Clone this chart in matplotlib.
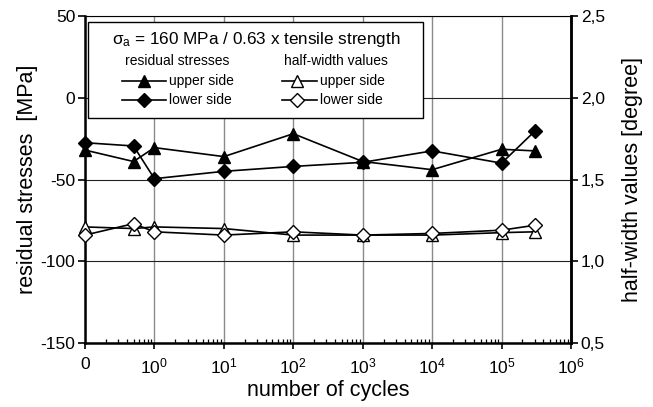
import matplotlib
matplotlib.use("Agg")
import matplotlib.pyplot as plt
from matplotlib.patches import Rectangle
from matplotlib.lines import Line2D
from matplotlib.ticker import FixedLocator, LogLocator, NullFormatter

plt.rcParams['font.family'] = ['Liberation Sans', 'DejaVu Sans']
plt.rcParams['mathtext.fontset'] = 'custom'
plt.rcParams['mathtext.rm'] = 'Liberation Sans'
plt.rcParams['mathtext.it'] = 'Liberation Sans:italic'
plt.rcParams['mathtext.sf'] = 'Liberation Sans'

# number of cycles (0 is drawn at the 10^-1 position of the log axis)
cycles = [0, 0.5, 1, 10, 100, 1000, 1e4, 1e5, 3e5]
zero_pos = 0.1
xpos = [zero_pos if c == 0 else c for c in cycles]

# residual stresses [MPa]
rs_upper = [-32, -39, -30.5, -36, -22, -39, -44, -31.5, -32.5]
rs_lower = [-27.5, -29.5, -49.5, -45, -42, -39.5, -32.5, -40, -20.5]
# half-width values [degree]
hw_upper = [1.21, 1.20, 1.21, 1.20, 1.16, 1.16, 1.16, 1.175, 1.18]
hw_lower = [1.16, 1.23, 1.18, 1.16, 1.18, 1.16, 1.17, 1.19, 1.22]

xtick_vals = [zero_pos, 1, 10, 100, 1e3, 1e4, 1e5, 1e6]
xtick_labels = ['0', '$10^{0}$', '$10^{1}$', '$10^{2}$', '$10^{3}$',
                '$10^{4}$', '$10^{5}$', '$10^{6}$']
ytick_left = [-150, -100, -50, 0, 50]
ytick_right = [0.5, 1.0, 1.5, 2.0, 2.5]
ytick_right_labels = ['0,5', '1,0', '1,5', '2,0', '2,5']

fig = plt.figure(figsize=(6.53, 4.07), dpi=100)
ax = fig.add_axes([85/653, 64/407, (571-85)/653, (343-16)/407])
ax.set_xscale('log')
ax.set_xlim(zero_pos, 1e6)
ax.set_ylim(-150, 50)

ax.xaxis.set_major_locator(FixedLocator(xtick_vals))
ax.set_xticklabels(xtick_labels)
ax.xaxis.set_minor_locator(LogLocator(base=10, subs=range(2, 10), numticks=20))
ax.xaxis.set_minor_formatter(NullFormatter())
ax.set_yticks(ytick_left)
ax.set_yticklabels([str(v) for v in ytick_left])

ax.grid(True, axis='x', which='major', color='#8a8a8a', lw=1.0)
ax.grid(True, axis='y', which='major', color='#222222', lw=0.8)
ax.set_axisbelow(True)

ax.tick_params(axis='x', which='major', direction='out', length=4, width=1.2,
               labelsize=12.5, pad=6)
ax.tick_params(axis='x', which='minor', direction='in', length=3, width=0.9)
ax.tick_params(axis='y', which='major', direction='out', length=5, width=1.2,
               labelsize=12.5, pad=2)

for side in ['left', 'bottom']:
    ax.spines[side].set_linewidth(1.8)
ax.spines['top'].set_linewidth(0.8)
ax.spines['right'].set_linewidth(1.8)

ax.plot(xpos, rs_upper, color='black', lw=1.2, marker='^', ms=8.5,
        mfc='black', mec='black', zorder=3, clip_on=False)
ax.plot(xpos, rs_lower, color='black', lw=1.2, marker='D', ms=7.5,
        mfc='black', mec='black', zorder=3, clip_on=False)

ax.set_xlabel('number of cycles', fontsize=15.5, labelpad=2)
ax.set_ylabel('residual stresses  [MPa]', fontsize=15.5, labelpad=2)

ax2 = ax.twinx()
ax2.set_ylim(0.5, 2.5)
ax2.set_yticks(ytick_right)
ax2.set_yticklabels(ytick_right_labels)
ax2.tick_params(axis='y', direction='out', length=5, width=1.2, labelsize=12.5, pad=2)
ax2.spines['right'].set_linewidth(1.8)
ax2.spines['left'].set_visible(False)
ax2.spines['top'].set_visible(False)
ax2.spines['bottom'].set_visible(False)
ax2.plot(xpos, hw_upper, color='black', lw=1.2, marker='^', ms=8.5,
         mfc='white', mec='black', mew=1.0, zorder=3, clip_on=False)
ax2.plot(xpos, hw_lower, color='black', lw=1.2, marker='D', ms=7.5,
         mfc='white', mec='black', mew=1.0, zorder=3, clip_on=False)
ax2.set_ylabel('half-width values [degree]', fontsize=15.5, labelpad=12)

# legend box (manual, in pixel-derived axes fractions)
W, H = 571 - 85, 343 - 16
def fx(px):
    return (px - 85) / W
def fy(py):
    return (343 - py) / H

box = Rectangle((fx(88), fy(118)), fx(423) - fx(88), fy(21.7) - fy(118),
                transform=ax2.transAxes, facecolor='white', edgecolor='black',
                lw=1.0, zorder=5)
ax2.add_patch(box)
ax2.text(fx(256), fy(39), 'σ$_{\\mathrm{a}}$ = 160 MPa / 0.63 x tensile strength',
         transform=ax2.transAxes, ha='center', va='center', fontsize=12.3, zorder=6)
ax2.text(fx(177), fy(61), 'residual stresses', transform=ax2.transAxes,
         ha='center', va='center', fontsize=10, zorder=6)
ax2.text(fx(336), fy(61), 'half-width values', transform=ax2.transAxes,
         ha='center', va='center', fontsize=10, zorder=6)

rows = [(81, '^', 8.5, 'upper side'), (100, 'D', 7.5, 'lower side')]
for ry, mk, ms, lab in rows:
    ax2.add_line(Line2D([fx(122), fx(166)], [fy(ry), fy(ry)], transform=ax2.transAxes,
                        color='black', lw=1.2, marker=None, zorder=6))
    ax2.add_line(Line2D([fx(144)], [fy(ry)], transform=ax2.transAxes, color='black',
                        marker=mk, ms=ms, mfc='black', mec='black', ls='none', zorder=7))
    ax2.text(fx(169), fy(ry), lab, transform=ax2.transAxes, ha='left', va='center',
             fontsize=10, zorder=6)
    ax2.add_line(Line2D([fx(282), fx(317)], [fy(ry), fy(ry)], transform=ax2.transAxes,
                        color='black', lw=1.2, zorder=6))
    ax2.add_line(Line2D([fx(297)], [fy(ry)], transform=ax2.transAxes, color='black',
                        marker=mk, ms=ms, mfc='white', mec='black', mew=1.0,
                        ls='none', zorder=7))
    ax2.text(fx(320), fy(ry), lab, transform=ax2.transAxes, ha='left', va='center',
             fontsize=10, zorder=6)

fig.savefig('out.png', dpi=100)
